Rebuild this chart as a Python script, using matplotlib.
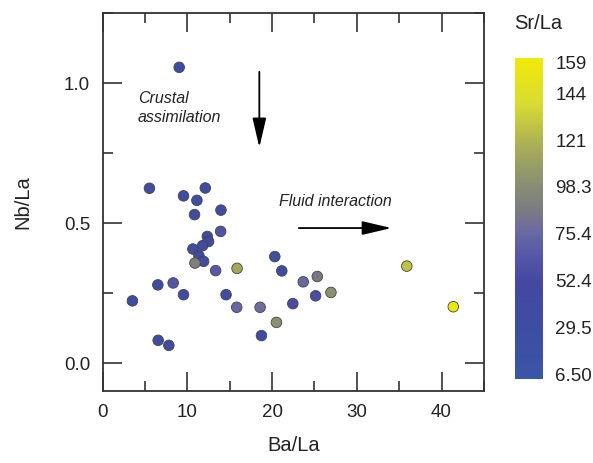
import numpy as np
import matplotlib
matplotlib.use("Agg")
import matplotlib.pyplot as plt
from matplotlib.colors import LinearSegmentedColormap, Normalize
from matplotlib.ticker import MultipleLocator

plt.rcParams['font.family'] = ['Liberation Sans', 'DejaVu Sans']

# Ba/La, Nb/La and Sr/La of the samples
ba_la = [9.04, 5.53, 9.55, 12.12, 11.13, 10.85, 13.97, 13.93, 12.36, 12.51,
         11.80, 10.66, 11.37, 11.92, 10.90, 13.34, 15.87, 20.32, 21.15, 6.52,
         8.33, 3.52, 9.55, 14.57, 15.83, 18.59, 20.52, 18.75, 6.56, 7.82,
         23.68, 25.34, 25.14, 26.95, 22.45, 35.90, 41.39]
nb_la = [1.056, 0.624, 0.597, 0.625, 0.581, 0.530, 0.546, 0.470, 0.452, 0.434,
         0.419, 0.407, 0.383, 0.363, 0.357, 0.330, 0.338, 0.380, 0.329, 0.279,
         0.286, 0.222, 0.244, 0.244, 0.199, 0.199, 0.145, 0.098, 0.081, 0.063,
         0.290, 0.309, 0.240, 0.252, 0.212, 0.346, 0.201]
sr_la = [30, 30, 32, 30, 33, 30, 30, 60, 35, 38,
         35, 33, 35, 35, 90, 65, 115, 20, 45, 32,
         62, 28, 35, 35, 75, 78, 100, 40, 30, 35,
         75, 85, 55, 100, 55, 128, 159]

cbar_ticks = [6.5, 29.5, 52.4, 75.4, 98.3, 121, 144, 159]
cbar_labels = ['6.50', '29.5', '52.4', '75.4', '98.3', '121', '144', '159']

cmap = LinearSegmentedColormap.from_list('srla', [
    (0.00, '#3a56a6'), (0.15, '#3d4ea2'), (0.30, '#4448a0'),
    (0.40, '#5a5aa8'), (0.46, '#6a6aa2'), (0.52, '#7a7a82'),
    (0.62, '#8c9270'), (0.72, '#a8ac58'), (0.86, '#d8dc30'),
    (1.00, '#f0ea08')])
# bar runs a little past the end labels
norm = Normalize(vmin=4.0, vmax=161.5)

fig = plt.figure(figsize=(5.93, 4.63), dpi=100)
ax = fig.add_axes([0.173, 0.1555, 0.643, 0.8164])

ax.scatter(ba_la, nb_la, c=sr_la, cmap=cmap, norm=norm, s=58,
           edgecolors='#444444', linewidths=0.6, zorder=3)

ax.set_xlim(0, 45)
ax.set_ylim(-0.1, 1.25)
ax.xaxis.set_major_locator(MultipleLocator(10))
ax.xaxis.set_minor_locator(MultipleLocator(5))
ax.yaxis.set_major_locator(MultipleLocator(0.5))
ax.yaxis.set_minor_locator(MultipleLocator(0.25))
ax.set_yticks([0.0, 0.5, 1.0])
ax.set_yticklabels(['0.0', '0.5', '1.0'])
ax.tick_params(which='both', direction='in', top=True, right=True,
               color='#333333', width=1.2, labelsize=13.5, labelcolor='#222222')
ax.tick_params(which='major', length=13.5, pad=9)
ax.tick_params(which='minor', length=7)
for s in ax.spines.values():
    s.set_color('#333333')
    s.set_linewidth(1.3)

ax.set_xlabel('Ba/La', fontsize=14.5, color='#222222', labelpad=11)
ax.set_ylabel('Nb/La', fontsize=14.5, color='#222222', labelpad=23)

# process arrows
head = '-|>,head_length=1.8,head_width=0.42'
ax.text(4.15, 0.97, 'Crustal\nassimilation', fontsize=11.5, style='italic',
        va='top', ha='left', linespacing=1.3, color='#222222')
ax.annotate('', xy=(18.5, 0.77), xytext=(18.5, 1.04),
            arrowprops=dict(arrowstyle=head, color='black', lw=1.3,
                            shrinkA=0, shrinkB=0))
ax.text(20.8, 0.577, 'Fluid interaction', fontsize=11.5, style='italic',
        va='center', ha='left', color='#222222')
ax.annotate('', xy=(34.1, 0.482), xytext=(23.16, 0.482),
            arrowprops=dict(arrowstyle=head, color='black', lw=1.3,
                            shrinkA=0, shrinkB=0))

# colour bar
cax = fig.add_axes([0.8685, 0.1808, 0.0467, 0.6946])
cb = fig.colorbar(plt.cm.ScalarMappable(norm=norm, cmap=cmap), cax=cax)
cb.outline.set_visible(False)
cb.set_ticks(cbar_ticks)
cb.set_ticklabels(cbar_labels)
cax.tick_params(length=0, pad=9, labelsize=13.5, labelcolor='#222222')
fig.text(0.907, 0.95, 'Sr/La', fontsize=14.5, ha='center', va='center',
         color='#222222')

fig.savefig('out.png', dpi=100)
